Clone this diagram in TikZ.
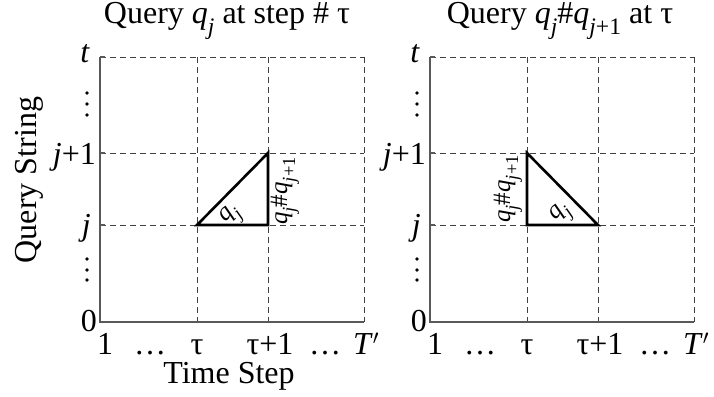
\documentclass[tikz,border=0pt]{standalone}
\usepackage{graphicx}
\usepackage{fontspec}
\setmainfont{Liberation Serif}
\newcommand{\qsub}[1]{\textit{q}\raisebox{-0.32em}{\scalebox{0.74}{#1}}}
\tikzset{
  gridline/.style={black!75,line width=0.9pt,dash pattern=on 6pt off 4pt},
  axisline/.style={black!65,line width=1.3pt},
  tri/.style={black,line width=2.6pt,line join=miter},
  tick/.style={anchor=base,inner sep=0pt},
  small/.style={font=\fontsize{25}{28}\selectfont,inner sep=0pt}
}
\begin{document}
\begin{tikzpicture}[x=1pt,y=-1pt,every node/.style={font=\fontsize{32}{36}\selectfont,inner sep=0pt}]
\useasboundingbox (0,0) rectangle (714,396);
% two panels, same grid
\foreach \p/\dx in {L/0,R/330} {
  \begin{scope}[xshift=\dx pt]
  \foreach \x in {197,268,364} \draw[gridline] (\x,57) -- (\x,322);
  \foreach \y in {57,153,225} {
    \draw[gridline] (100,\y) -- (364,\y);
    \draw[axisline] (100,\y) -- (105,\y);
  }
  \draw[axisline] (100,57) -- (100,322) -- (364,322);
  % rows
  \node[tick,anchor=base east] (t\p) at (90,63) {\textit{t}};
  \node[tick,anchor=base east] (jj\p) at (96,164) {\textit{j}+1};
  \node[tick,anchor=base east] (j\p) at (91,235) {\textit{j}};
  \node[tick,anchor=base east] (zero\p) at (97,331) {0};
  \foreach \y in {93,104,115,259,270,280} \fill (87,\y) circle (1.8);
  % columns
  \node[tick,anchor=base west] (one\p) at (97,354) {1};
  \node[tick] (da\p) at (150,354) {\ldots};
  \node[tick] (tau\p) at (197,354) {τ};
  \node[tick] (taup\p) at (270,354) {τ+1};
  \node[tick] (db\p) at (325,354) {\ldots};
  \node[tick,anchor=base west] (T\p) at (353,354) {\textit{T}$'$};
  \end{scope}
}
% left panel
\node[tick] (titleL) at (227,24) {Query \qsub{\textit{j}} at step \# τ};
\node[tick] (xlab) at (229,383) {Time Step};
\node[rotate=90] (ylab) at (29,180) {Query String};
\draw[tri] (197,225) -- (268,153) -- (268,225) -- cycle;
\node[small,rotate=45] (qjL) at (232,216) {\qsub{\textit{j}}};
\node[small,rotate=90] (qqL) at (285,191) {\qsub{\textit{j}}\#\qsub{\textit{j}+1}};
% right panel
\node[tick] (titleR) at (560,24) {Query \qsub{\textit{j}}\#\qsub{\textit{j}+1} at τ};
\draw[tri] (527,153) -- (527,225) -- (598,225) -- cycle;
\node[small,rotate=45] (qjR) at (562,214) {\qsub{\textit{j}}};
\node[small,rotate=90] (qqR) at (508,189) {\qsub{\textit{j}}\#\qsub{\textit{j}+1}};
\end{tikzpicture}
\end{document}
